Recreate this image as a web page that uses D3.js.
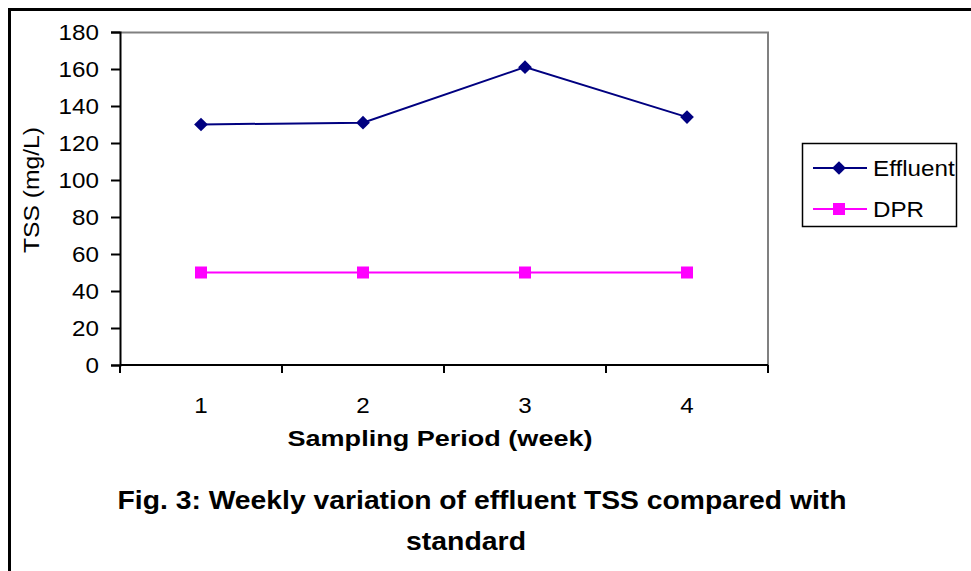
<!DOCTYPE html>
<html>
<head>
<meta charset="utf-8">
<script src="https://cdn.jsdelivr.net/npm/d3@7/dist/d3.min.js"></script>
<style>
  body { margin: 0; background: #fff; }
  text { font-family: Arial, "Liberation Sans", sans-serif; fill: #000; }
</style>
</head>
<body>
<div id="chart"></div>
<script>
// data
var weeks = ['1', '2', '3', '4'];
var effluent = [130, 131, 161, 134];
var dpr = [50, 50, 50, 50];
var yTicks = [0, 20, 40, 60, 80, 100, 120, 140, 160, 180];

// svg container
var width = 971;
var height = 571;

// plot area
var margin = { top: 32, left: 120 };
var chartWidth = 648;
var chartHeight = 333;

// the source text is a bit wider than plain Arial
var stretch = 1.1;
function widen(sel) {
    sel.each(function () {
        var len = this.getComputedTextLength();
        d3.select(this)
            .attr('textLength', len * stretch)
            .attr('lengthAdjust', 'spacingAndGlyphs');
    });
}

var svg = d3.select('#chart').append('svg')
    .attr('width', width)
    .attr('height', height);

// outer frame
svg.append('rect')
    .attr('x', 9.5).attr('y', 9.5)
    .attr('width', 980).attr('height', 600)
    .attr('fill', 'none')
    .attr('stroke', '#000')
    .attr('stroke-width', 3);

var chartGroup = svg.append('g')
    .attr('transform', `translate(${margin.left}, ${margin.top})`);

// scales
var xScale = d3.scaleBand()
    .domain(weeks)
    .range([0, chartWidth]);

var yScale = d3.scaleLinear()
    .domain([0, 180])
    .range([chartHeight, 0]);

// grey plot border (top and right)
chartGroup.append('path')
    .attr('d', `M0,0.5H${chartWidth}V${chartHeight}`)
    .attr('fill', 'none')
    .attr('stroke', '#808080')
    .attr('stroke-width', 2);

// y axis
var yAxis = d3.axisLeft(yScale)
    .tickValues(yTicks)
    .tickSize(9)
    .tickPadding(12);

var yG = chartGroup.append('g').call(yAxis);
yG.select('.domain').attr('stroke', '#000').attr('stroke-width', 2);
yG.selectAll('.tick line').attr('stroke', '#000').attr('stroke-width', 2);
yG.selectAll('.tick text')
    .style('font-size', '22px')
    .attr('dy', '0.36em')
    .call(widen);

// x axis with ticks at band edges
var xG = chartGroup.append('g')
    .attr('transform', `translate(0, ${chartHeight})`);

xG.append('line')
    .attr('x1', 0).attr('x2', chartWidth)
    .attr('stroke', '#000').attr('stroke-width', 2);

var edges = weeks.map(d => xScale(d)).concat([chartWidth]);
xG.selectAll('.edge')
    .data(edges)
    .enter()
    .append('line')
    .attr('x1', d => d).attr('x2', d => d)
    .attr('y1', 0).attr('y2', 8)
    .attr('stroke', '#000').attr('stroke-width', 2);

xG.selectAll('.lbl')
    .data(weeks)
    .enter()
    .append('text')
    .attr('x', d => xScale(d) + xScale.bandwidth() / 2)
    .attr('y', 413 - 365)
    .attr('text-anchor', 'middle')
    .style('font-size', '22px')
    .text(d => d)
    .call(widen);

// axis titles
chartGroup.append('text')
    .attr('transform', 'rotate(-90)')
    .attr('x', -(190 - margin.top))
    .attr('y', 39 - margin.left)
    .attr('text-anchor', 'middle')
    .style('font-size', '22px')
    .attr('textLength', 126)
    .attr('lengthAdjust', 'spacingAndGlyphs')
    .text('TSS (mg/L)');

chartGroup.append('text')
    .attr('x', 440 - margin.left)
    .attr('y', 446 - margin.top)
    .attr('text-anchor', 'middle')
    .style('font-size', '22px')
    .style('font-weight', 'bold')
    .attr('textLength', 305)
    .attr('lengthAdjust', 'spacingAndGlyphs')
    .text('Sampling Period (week)');

// lines
var cx = d => xScale(d) + xScale.bandwidth() / 2;

var line = d3.line()
    .x((d, i) => cx(weeks[i]))
    .y(d => yScale(d));

chartGroup.append('path')
    .datum(effluent)
    .attr('d', line)
    .attr('fill', 'none')
    .attr('stroke', '#000080')
    .attr('stroke-width', 2);

chartGroup.append('path')
    .datum(dpr)
    .attr('d', line)
    .attr('fill', 'none')
    .attr('stroke', '#FF00FF')
    .attr('stroke-width', 2);

// markers
var diamond = d3.symbol().type(d3.symbolDiamond2).size(120);

chartGroup.selectAll('.eff')
    .data(effluent)
    .enter()
    .append('path')
    .attr('d', diamond)
    .attr('transform', (d, i) => `translate(${cx(weeks[i])}, ${yScale(d)})`)
    .attr('fill', '#000080');

chartGroup.selectAll('.dpr')
    .data(dpr)
    .enter()
    .append('rect')
    .attr('x', (d, i) => cx(weeks[i]) - 6)
    .attr('y', d => yScale(d) - 6)
    .attr('width', 12).attr('height', 12)
    .attr('fill', '#FF00FF');

// legend
var legend = svg.append('g');
legend.append('rect')
    .attr('x', 802.5).attr('y', 143.5)
    .attr('width', 154).attr('height', 83)
    .attr('fill', '#fff')
    .attr('stroke', '#000')
    .attr('stroke-width', 1.5);

var legendItems = [
    { name: 'Effluent', color: '#000080', y: 168 },
    { name: 'DPR', color: '#FF00FF', y: 209 }
];

legendItems.forEach(function (item, i) {
    legend.append('line')
        .attr('x1', 813).attr('x2', 867)
        .attr('y1', item.y).attr('y2', item.y)
        .attr('stroke', item.color).attr('stroke-width', 2);
    if (i === 0) {
        legend.append('path')
            .attr('d', diamond)
            .attr('transform', `translate(839, ${item.y})`)
            .attr('fill', item.color);
    } else {
        legend.append('rect')
            .attr('x', 833).attr('y', item.y - 6)
            .attr('width', 12).attr('height', 12)
            .attr('fill', item.color);
    }
    legend.append('text')
        .attr('x', 873)
        .attr('y', item.y + 8)
        .style('font-size', '22px')
        .text(item.name)
        .call(widen);
});

// caption
svg.append('text')
    .attr('x', 482).attr('y', 509)
    .attr('text-anchor', 'middle')
    .attr('textLength', 729)
    .attr('lengthAdjust', 'spacingAndGlyphs')
    .style('font-size', '26px')
    .style('font-weight', 'bold')
    .text('Fig. 3: Weekly variation of effluent TSS compared with');

svg.append('text')
    .attr('x', 466).attr('y', 550)
    .attr('text-anchor', 'middle')
    .style('font-size', '26px')
    .style('font-weight', 'bold')
    .attr('textLength', 120)
    .attr('lengthAdjust', 'spacingAndGlyphs')
    .text('standard');
</script>
</body>
</html>
